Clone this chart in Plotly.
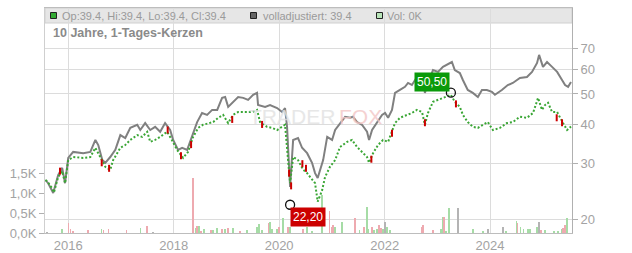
import math
import plotly.graph_objects as go

# ---------------- data ----------------
adj_dates = ["2015-07-27","2015-08-15","2015-09-19","2015-10-23","2015-11-20","2015-12-10",
 "2016-01-01","2016-02-04","2016-04-14","2016-06-02","2016-07-07","2016-07-27","2016-08-24",
 "2016-09-14","2016-10-18","2016-11-22","2016-12-27","2017-01-30","2017-03-06","2017-04-23",
 "2017-05-14","2017-06-17","2017-07-22","2017-08-25","2017-09-29","2017-11-02","2017-12-07",
 "2017-12-28","2018-01-31","2018-02-28","2018-04-04","2018-05-08","2018-06-12","2018-07-16",
 "2018-08-20","2018-09-24","2018-10-29","2018-12-02","2018-12-23","2019-01-13","2019-02-16",
 "2019-03-23","2019-04-27","2019-05-31","2019-07-05","2019-08-01","2019-08-08","2019-09-26",
 "2019-10-30","2019-12-18","2020-01-22","2020-02-11","2020-02-25","2020-03-03","2020-03-17",
 "2020-04-07","2020-05-11","2020-06-08","2020-07-13","2020-08-16","2020-09-06","2020-09-24",
 "2020-11-01","2020-11-29","2021-01-02","2021-01-23","2021-02-26","2021-04-02","2021-05-07",
 "2021-05-27","2021-06-24","2021-07-28","2021-09-01","2021-09-15","2021-10-06","2021-11-09",
 "2021-12-14","2022-01-04","2022-01-25","2022-02-21","2022-03-14","2022-04-17","2022-05-22",
 "2022-06-12","2022-07-09","2022-08-13","2022-09-17","2022-10-07","2022-10-28","2022-12-02",
 "2023-01-06","2023-02-09","2023-04-12","2023-05-02","2023-06-06","2023-06-27","2023-07-31",
 "2023-09-04","2023-10-09","2023-11-06","2023-12-10","2024-01-14","2024-02-04","2024-03-23",
 "2024-05-03","2024-06-07","2024-07-26","2024-09-13","2024-10-18","2024-11-22","2024-12-06",
 "2025-01-02","2025-01-30","2025-03-06","2025-04-10","2025-05-14","2025-06-04","2025-06-25",
 "2025-07-15"]
adj_vals = [26.6,26.0,24.2,27.6,29.1,26.0,
 31.3,32.7,32.4,32.7,35.7,34.4,30.8,
 30.2,31.5,33.2,37.0,36.2,39.0,39.9,
 38.4,40.4,38.4,39.3,37.9,40.4,38.4,
 35.7,33.2,33.7,33.2,36.5,40.7,43.5,
 42.9,44.5,44.5,48.6,48.9,45.5,47.2,
 48.9,48.6,47.9,49.7,50.4,46.1,45.5,
 46.1,45.1,43.8,45.1,39.3,32.4,25.3,
 35.7,36.2,33.7,32.4,30.2,28.0,27.0,
 30.8,36.5,35.7,38.4,40.4,42.3,42.0,
 42.3,40.7,39.9,37.9,35.7,38.4,40.7,
 42.9,43.5,42.0,44.5,50.4,51.5,52.7,
 54.2,53.4,56.6,57.5,50.4,54.2,59.6,
 58.8,61.0,63.2,59.6,58.3,55.4,51.5,
 50.4,48.9,51.5,51.5,50.8,49.7,51.5,
 53.4,54.2,56.2,56.6,58.8,62.8,66.6,
 61.0,63.2,61.0,58.8,55.4,53.4,52.7,
 54.6]

candle_dates = ["2015-07-27","2015-08-08","2015-09-10","2015-09-24","2015-10-23","2015-11-20","2015-12-10",
 "2016-01-01","2016-02-04","2016-04-14","2016-06-02","2016-07-07","2016-08-10","2016-09-14",
 "2016-10-18","2016-11-07","2016-12-27","2017-01-30","2017-03-06","2017-04-23","2017-05-27",
 "2017-07-01","2017-07-22","2017-08-25","2017-09-29","2017-11-16","2017-12-19","2018-01-24",
 "2018-03-07","2018-04-10","2018-05-15","2018-06-19","2018-07-23","2018-08-27","2018-10-01",
 "2018-11-05","2018-12-09","2019-01-13","2019-02-16","2019-03-23","2019-05-10","2019-06-28",
 "2019-08-01","2019-08-22","2019-10-09","2019-11-13","2019-12-18","2020-01-22","2020-02-11",
 "2020-03-03","2020-03-17","2020-04-07","2020-05-11","2020-06-15","2020-07-13","2020-08-03",
 "2020-09-06","2020-09-24","2020-10-25","2020-11-14","2020-12-18","2021-01-23","2021-02-26",
 "2021-04-16","2021-05-20","2021-06-24","2021-07-28","2021-09-01","2021-09-15","2021-10-13",
 "2021-11-16","2021-12-21","2022-01-25","2022-02-21","2022-03-14","2022-04-17","2022-06-05",
 "2022-07-09","2022-08-13","2022-09-17","2022-10-07","2022-10-28","2022-12-02","2023-01-06",
 "2023-02-09","2023-04-05","2023-05-02","2023-06-06","2023-06-27","2023-07-31","2023-09-04",
 "2023-10-09","2023-11-13","2023-12-17","2024-01-21","2024-03-10","2024-04-27","2024-06-07",
 "2024-07-26","2024-09-13","2024-10-25","2024-11-29","2024-12-26","2025-01-16","2025-02-06",
 "2025-03-06","2025-04-10","2025-04-30","2025-05-21","2025-06-18","2025-07-15"]
candle_vals = [26.6,26.4,25.1,24.3,27.2,28.4,26.0,
 30.8,31.5,31.3,31.5,33.7,31.5,29.3,
 28.7,30.8,33.7,34.4,35.7,37.0,36.5,
 37.9,35.2,35.7,36.5,37.9,35.7,33.2,
 31.3,32.7,36.5,39.0,39.9,40.4,40.7,
 42.0,42.9,40.4,42.9,43.8,43.8,43.8,
 44.5,40.7,39.3,39.0,38.4,39.3,39.9,
 30.8,26.0,31.5,30.8,28.7,28.0,27.2,
 26.0,22.7,24.7,27.2,29.3,30.8,33.9,
 35.2,35.7,33.9,32.7,31.5,30.2,32.4,
 34.4,35.7,35.2,37.9,40.4,42.0,42.9,
 43.5,44.5,43.8,39.9,43.5,47.2,47.9,
 48.6,49.7,47.2,45.5,42.9,40.7,39.3,
 39.0,39.9,40.7,38.4,39.0,40.4,40.7,
 42.3,42.0,43.5,48.6,44.5,46.1,46.9,
 43.8,43.8,42.0,40.4,38.4,39.4]

red_dates = ["2015-11-05","2016-08-20","2016-10-10","2017-11-20","2018-02-20","2018-05-01",
 "2019-02-10","2019-09-05","2020-03-10","2020-03-24","2020-06-10","2020-07-05","2021-10-01",
 "2022-02-21","2022-10-07","2023-05-10","2025-04-07","2025-05-14"]
red_vals = [28.4,30.2,29.0,38.4,31.8,34.5,41.5,40.0,28.0,25.5,30.0,29.0,31.0,37.5,40.5,46.5,42.0,40.5]

vol_dates = ["2015-08-08","2015-11-20","2016-01-01","2016-01-15","2016-02-04","2016-05-18","2016-08-17",
 "2016-08-31","2016-10-04","2017-02-06","2017-05-14","2017-07-01","2017-08-11","2018-05-15",
 "2018-06-05","2018-06-12","2018-06-26","2018-07-10","2018-07-30","2018-09-17","2018-10-01",
 "2018-10-29","2018-12-02","2018-12-23","2019-01-13","2019-02-16","2019-04-06","2019-05-24",
 "2019-08-01","2019-08-15","2019-09-05","2019-10-23","2019-10-30","2019-11-13","2019-12-18",
 "2020-01-01","2020-01-29","2020-03-03","2020-03-17","2020-06-15","2020-07-13","2020-08-16",
 "2020-10-25","2020-12-13","2020-12-27","2021-01-09","2021-01-23","2021-03-12","2021-06-10",
 "2021-07-10","2021-08-12","2021-09-01","2021-09-08","2021-10-06","2021-10-20","2021-11-09",
 "2021-11-23","2021-12-07","2021-12-21","2022-01-04","2022-01-18","2022-02-07","2022-09-17",
 "2022-09-24","2022-12-02","2023-01-26","2023-02-09","2023-02-16","2023-03-02","2023-03-23",
 "2023-05-23","2023-09-04","2023-11-13","2023-12-17","2024-03-31","2024-04-21","2024-07-01",
 "2024-07-08","2024-07-29","2024-08-19","2024-09-20","2024-10-04","2024-11-22","2024-12-06",
 "2024-12-20","2025-01-16","2025-03-20","2025-04-17","2025-05-14","2025-05-21","2025-06-04",
 "2025-06-18"]
vol_k = [0.02,0.10,0.25,0.10,0.03,0.075,0.10,
 0.075,0.10,0.075,0.125,0.175,0.02,1.375,
 0.125,0.175,0.175,0.05,0.10,0.075,0.075,
 0.125,0.10,0.10,0.125,0.125,0.03,0.075,
 0.15,0.225,0.08,0.25,0.275,0.10,0.10,
 0.15,0.375,0.15,0.15,0.10,0.15,0.05,
 0.95,0.55,0.15,0.20,0.15,0.275,0.375,
 0.08,0.15,0.65,0.10,0.15,0.08,0.10,
 0.20,0.12,0.10,0.275,0.15,0.07,0.15,
 0.20,0.07,0.10,0.40,0.40,0.05,0.625,
 0.625,0.10,0.05,0.10,0.15,0.05,0.30,
 0.25,0.15,0.10,0.10,0.10,0.15,0.275,
 0.07,0.08,0.03,0.03,0.10,0.12,0.20,
 0.375]
vol_dir = ["n","g","r","r","r","r","g",
 "r","r","r","g","r","n","r",
 "g","r","g","r","g","r","g",
 "g","r","g","r","g","r","g",
 "g","g","g","r","g","g","g",
 "r","g","r","g","r","g","g",
 "g","r","r","r","g","g","r",
 "g","r","g","g","r","g","g",
 "r","r","g","n","g","g","r",
 "r","r","g","g","r","g","g",
 "n","g","g","n","n","g","g",
 "r","g","g","g","g","g","n",
 "r","g","g","g","g","r","r",
 "g"]

price_ticks = [20, 30, 40, 50, 60, 70]
vol_ticks = [0, 0.5, 1.0, 1.5]
vol_ticktext = ["0,0K", "0,5K", "1,0K", "1,5K"]

max_date, max_val, max_text = "2023-04-05", 50.5, "50,50"
min_date, min_val, min_text = "2020-03-17", 22.2, "22,20"

# ---------------- styles ----------------
VOL_COLORS = {"g": "#a6dca6", "r": "#eeaab0", "n": "#b4b4b4"}
FONT = "Liberation Sans, Arial, sans-serif"
TXT = "#a3a3a3"

fig = go.Figure()

fig.add_trace(go.Bar(
    x=vol_dates, y=vol_k, marker=dict(color=[VOL_COLORS[d] for d in vol_dir], line=dict(width=0)),
    width=3 * 86400000, yaxis="y", hoverinfo="skip", showlegend=False))

fig.add_trace(go.Scatter(
    x=adj_dates, y=adj_vals, mode="lines", yaxis="y2",
    line=dict(color="#808080", width=2.0), hoverinfo="skip", showlegend=False))

fig.add_trace(go.Scatter(
    x=candle_dates, y=candle_vals, mode="lines", yaxis="y2",
    line=dict(color="#3aa635", width=2.0, dash="2px,2px"), hoverinfo="skip", showlegend=False))

fig.add_trace(go.Scatter(
    x=red_dates, y=red_vals, mode="markers", yaxis="y2",
    marker=dict(symbol="line-ns-open", size=5, color="#cc0000", line=dict(color="#cc0000", width=2)),
    hoverinfo="skip", showlegend=False))

fig.add_trace(go.Scatter(
    x=[max_date, min_date], y=[max_val, min_val], mode="markers", yaxis="y2",
    marker=dict(symbol="circle-open", size=9, color="#111111", line=dict(color="#111111", width=1.3)),
    hoverinfo="skip", showlegend=False))

L, R, T, B = 45, 60, 8, 20
W, H = 632, 253
pw, ph = W - L - R, H - T - B

def px(xp):
    return (xp - L) / pw

def py(yp):
    return (H - B - yp) / ph

shapes = [
    dict(type="rect", xref="paper", yref="paper", x0=0, x1=1, y0=py(23), y1=1,
         fillcolor="#e6e6e6", line=dict(color="#d0d0d0", width=1), layer="below"),
    dict(type="rect", xref="paper", yref="paper", x0=px(50.5), x1=px(56.5), y0=py(18.5), y1=py(12.5),
         fillcolor="#33aa33", line=dict(color="#222", width=1)),
    dict(type="rect", xref="paper", yref="paper", x0=px(250.5), x1=px(256.5), y0=py(18.5), y1=py(12.5),
         fillcolor="#666666", line=dict(color="#222", width=1)),
    dict(type="rect", xref="paper", yref="paper", x0=px(376.5), x1=px(382.5), y0=py(18.5), y1=py(12.5),
         fillcolor="#b8e4b8", line=dict(color="#222", width=1)),
]

annotations = [
    dict(text="TRADER", xref="paper", yref="paper", x=px(337), y=py(116), xanchor="right", yanchor="middle",
         showarrow=False, font=dict(family=FONT, size=21, color="#e2e2e2"), opacity=0.8),
    dict(text="FOX", xref="paper", yref="paper", x=px(337), y=py(116), xanchor="left", yanchor="middle",
         showarrow=False, font=dict(family=FONT, size=21, color="#f3c6c6"), opacity=0.8),
    dict(text="Op:39.4, Hi:39.4, Lo:39.4, Cl:39.4", xref="paper", yref="paper", x=px(60), y=py(15.8),
         xanchor="left", yanchor="middle", showarrow=False, font=dict(family=FONT, size=11, color="#9a9a9a")),
    dict(text="volladjustiert: 39.4", xref="paper", yref="paper", x=px(261), y=py(15.8),
         xanchor="left", yanchor="middle", showarrow=False, font=dict(family=FONT, size=11, color="#9a9a9a")),
    dict(text="Vol: 0K", xref="paper", yref="paper", x=px(385), y=py(15.8),
         xanchor="left", yanchor="middle", showarrow=False, font=dict(family=FONT, size=11, color="#9a9a9a")),
    dict(text="<b>10 Jahre, 1-Tages-Kerzen</b>", xref="paper", yref="paper", x=px(51), y=py(33),
         xanchor="left", yanchor="middle", showarrow=False, font=dict(family=FONT, size=12.5, color="#8a8a8a")),
    dict(text=max_text, xref="x", yref="y2", x=max_date, y=math.log10(max_val),
         xanchor="right", yanchor="bottom", xshift=-1, yshift=1, showarrow=False,
         bgcolor="#0a9a0a", borderpad=2, font=dict(family=FONT, size=12, color="#ffffff")),
    dict(text=min_text, xref="x", yref="y2", x=min_date, y=math.log10(min_val),
         xanchor="left", yanchor="top", xshift=0, yshift=-2, showarrow=False,
         bgcolor="#cc0000", borderpad=2, font=dict(family=FONT, size=12, color="#ffffff")),
]

fig.update_layout(
    width=W, height=H, margin=dict(l=L, r=R, t=T, b=B, pad=0, autoexpand=False),
    paper_bgcolor="white", plot_bgcolor="white",
    font=dict(family=FONT, size=13, color=TXT),
    bargap=0,
    xaxis=dict(type="date", range=["2015-07-24", "2025-07-22"], tick0="2016-01-01", dtick="M24",
               tickformat="%Y", showgrid=True, gridcolor="#dcdcdc", gridwidth=1, automargin=False,
               showline=True, linecolor="#bdbdbd", linewidth=1, mirror=True,
               ticks="", tickfont=dict(size=13, color=TXT), zeroline=False, fixedrange=True),
    yaxis=dict(range=[0, 5.625], tickmode="array", tickvals=vol_ticks, ticktext=vol_ticktext,
               showgrid=False, zeroline=False, showline=True, linecolor="#cfcfcf", linewidth=1,
               ticks="outside", ticklen=5, tickcolor="#b0b0b0", tickfont=dict(size=13, color=TXT),
               side="left", fixedrange=True, automargin=False),
    yaxis2=dict(type="log", overlaying="y", side="right",
                range=[math.log10(18.05), math.log10(93.9)],
                tickmode="array", tickvals=price_ticks, ticktext=[str(v) for v in price_ticks],
                showgrid=True, gridcolor="#dcdcdc", gridwidth=1, zeroline=False, automargin=False,
                showline=True, linecolor="#b0b0b0", linewidth=1,
                ticks="outside", ticklen=5, tickcolor="#b0b0b0", tickfont=dict(size=13, color=TXT),
                fixedrange=True),
    shapes=shapes, annotations=annotations,
)

fig.write_html("out.html", config={"displayModeBar": False})
